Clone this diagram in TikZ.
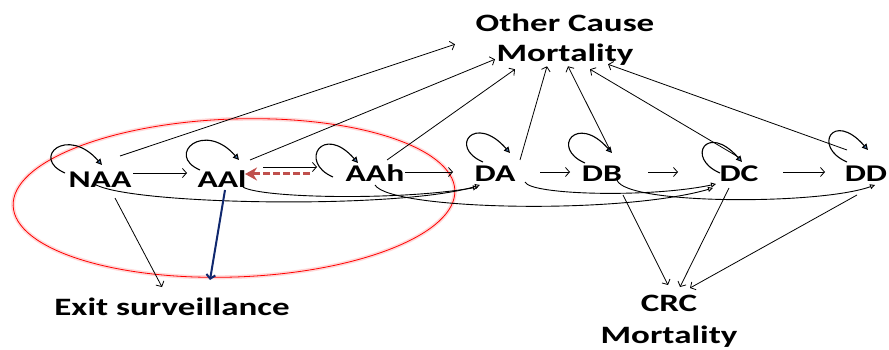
\documentclass[tikz,border=0pt]{standalone}
\usepackage{fontspec}
\newfontfamily\boxfont[FakeStretch=1.4]{Carlito}
\usepackage{tikz}
\usetikzlibrary{shapes,arrows,arrows.meta,positioning,calc}
\definecolor{loopblue}{RGB}{79,129,189}
\definecolor{exitblue}{RGB}{16,40,110}
\definecolor{backred}{RGB}{192,80,77}

\tikzset{
  stage/.style={font=\boxfont\bfseries\fontsize{24}{28}\selectfont, inner sep=1pt,
    text height=16pt, text depth=0pt, anchor=base},
  outcome/.style={font=\boxfont\bfseries\fontsize{25}{30}\selectfont, inner sep=0pt,
    align=center, anchor=north},
  selfloop/.style={line width=1.1pt, -{Triangle[length=6pt,width=6pt,fill=loopblue]}},
  jump/.style={line width=0.9pt, -{Triangle[open,length=5pt,width=5pt]}}
}

\begin{document}
\begin{tikzpicture}[x=1pt,y=-1pt,line width=0.8pt,>={Straight Barb[length=4pt,width=9pt]}]
      \useasboundingbox (0,0) rectangle (889,350);
      % surveillance ellipse
      \draw[red!15, line width=4pt, rotate around={2:(234,198)}] (234,198) ellipse [x radius=221, y radius=79];
      \draw[red, line width=0.8pt, rotate around={2:(234,198)}] (234,198) ellipse [x radius=221, y radius=79];
      % health states with absolute coordinates
      \node[stage] (naa) at (100,187) {NAA};
      \node[stage] (aal) at (222,187) {AAl};
      \node[stage] (aah) at (375,182) {AAh};
      \node[stage] (da) at (495,182) {DA};
      \node[stage] (db) at (602,182) {DB};
      \node[stage] (dc) at (739,182) {DC};
      \node[stage] (dd) at (866,182) {DD};
      % absorbing states
      \node[outcome] (ocm) at (565,14) {Other Cause\\Mortality};
      \node[outcome, anchor=base] (exit) at (172,315) {Exit surveillance};
      \node[outcome, font=\boxfont\bfseries\fontsize{25}{32}\selectfont] (crc) at (669,295) {CRC\\Mortality};
      % stay in state
      \foreach \s/\sx/\sy/\ex/\ey in {naa/-35/-14/2/-22, aal/-22/-17/17/-27, aah/-42/-5/-17/-19,
          da/-12/-20/15/-29, db/-17/-19/10/-29, dc/-19/-9/3/-20, dd/-19/-20/2/-32}
        \draw[selfloop] ([shift={(\sx,\sy)}]\s.base) .. controls +(-35,-15) and +(-35,-40) .. ([shift={(\ex,\ey)}]\s.base);
      % progression
      \draw[->] ([shift={(33,-14)}]naa.base) -- ([shift={(-35,-14)}]aal.base);
      \draw[->] ([shift={(41,-20)}]aal.base) -- ([shift={(-58,-15)}]aah.base);
      \draw[->] ([shift={(30,-10)}]aah.base) -- ([shift={(-42,-10)}]da.base);
      \draw[->] ([shift={(45,-10)}]da.base) -- ([shift={(-32,-10)}]db.base);
      \draw[->] ([shift={(46,-10)}]db.base) -- ([shift={(-61,-10)}]dc.base);
      \draw[->] ([shift={(44,-10)}]dc.base) -- ([shift={(-41,-10)}]dd.base);
      % regression
      \draw[backred, line width=3pt, dash pattern=on 7pt off 3pt, -{Stealth[length=12pt,width=13pt]}]
        ([shift={(-65,-8)}]aah.base) -- ([shift={(23,-13)}]aal.base);
      % skipped states
      \draw[jump] ([shift={(-7,-4)}]naa.base) .. controls +(27,22) and +(-80,25) .. ([shift={(-15,3)}]da.base);
      \draw[jump] ([shift={(21,0)}]aal.base) .. controls +(17,11) and +(-80,14) .. ([shift={(-17,5)}]da.base);
      \draw[jump] ([shift={(0,3)}]aah.base) .. controls +(15,25) and +(-93,27) .. ([shift={(-26,6)}]dc.base);
      \draw[jump] ([shift={(30,0)}]da.base) .. controls +(5,13) and +(-66,14) .. ([shift={(-23,2)}]dc.base);
      \draw[jump] ([shift={(15,-2)}]db.base) .. controls +(8,25) and +(-55,20) .. ([shift={(9,3)}]dd.base);
      % other cause mortality
      \foreach \s/\sx/\sy/\tx/\ty in {naa/20/-31/-110/-22, aal/28/-27/-70/-7, aah/12/-22/-50/3,
          da/25/-22/-18/0, db/8/-32/3/0, dc/1/-24/25/3, dd/-19/-32/43/-2}
        \draw[->] ([shift={(\sx,\sy)}]\s.base) -- ([shift={(\tx,\ty)}]ocm.south);
      % exit surveillance
      \draw[->] ([shift={(15,11)}]naa.base) -- ([shift={(-10,-28)}]exit.base);
      \draw[exitblue, line width=2pt, ->] ([shift={(3,3)}]aal.base) -- ([shift={(38,-35)}]exit.base);
      % crc mortality
      \draw[->] ([shift={(21,13)}]db.base) -- ([shift={(-1,-10)}]crc.north);
      \draw[->] ([shift={(-10,6)}]dc.base) -- ([shift={(11,-8)}]crc.north);
      \draw[->] ([shift={(-9,13)}]dd.base) -- ([shift={(21,-7)}]crc.north);
    \end{tikzpicture}
\end{document}
